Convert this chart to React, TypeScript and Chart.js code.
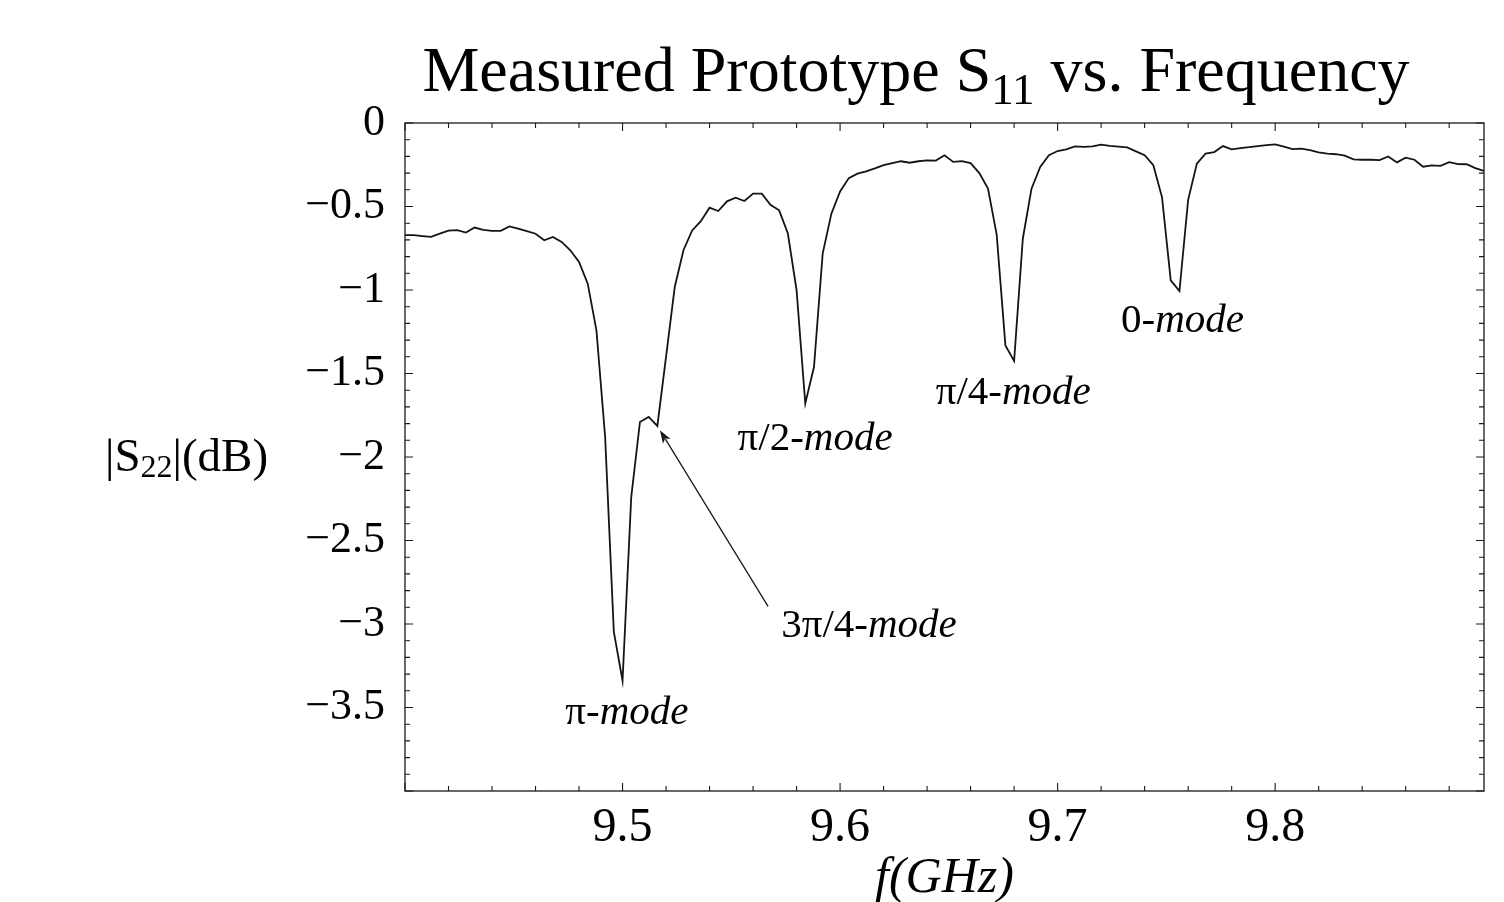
import React, { useEffect, useRef } from 'react';
import { Chart, registerables } from 'chart.js';

Chart.register(...registerables);

// Frequency grid (GHz) of the measured sweep
const FREQ_GHZ = [
  9.400, 9.404, 9.408, 9.412, 9.416, 9.420, 9.424, 9.428, 9.432, 9.436,
  9.440, 9.444, 9.448, 9.452, 9.456, 9.460, 9.464, 9.468, 9.472, 9.476,
  9.480, 9.484, 9.488, 9.492, 9.496, 9.500, 9.504, 9.508, 9.512, 9.516,
  9.520, 9.524, 9.528, 9.532, 9.536, 9.540, 9.544, 9.548, 9.552, 9.556,
  9.560, 9.564, 9.568, 9.572, 9.576, 9.580, 9.584, 9.588, 9.592, 9.596,
  9.600, 9.604, 9.608, 9.612, 9.616, 9.620, 9.624, 9.628, 9.632, 9.636,
  9.640, 9.644, 9.648, 9.652, 9.656, 9.660, 9.664, 9.668, 9.672, 9.676,
  9.680, 9.684, 9.688, 9.692, 9.696, 9.700, 9.704, 9.708, 9.712, 9.716,
  9.720, 9.724, 9.728, 9.732, 9.736, 9.740, 9.744, 9.748, 9.752, 9.756,
  9.760, 9.764, 9.768, 9.772, 9.776, 9.780, 9.784, 9.788, 9.792, 9.796,
  9.800, 9.804, 9.808, 9.812, 9.816, 9.820, 9.824, 9.828, 9.832, 9.836,
  9.840, 9.844, 9.848, 9.852, 9.856, 9.860, 9.864, 9.868, 9.872, 9.876,
  9.880, 9.884, 9.888, 9.892, 9.896,
];

// Measured |S22| (dB)
const S_DB = [
  -0.672, -0.672, -0.677, -0.682, -0.662, -0.645, -0.642, -0.656, -0.626, -0.640,
  -0.646, -0.646, -0.619, -0.633, -0.648, -0.663, -0.702, -0.682, -0.712, -0.762,
  -0.832, -0.962, -1.241, -1.880, -3.048, -3.340, -2.240, -1.790, -1.760, -1.814,
  -1.400, -0.982, -0.762, -0.643, -0.588, -0.507, -0.527, -0.469, -0.447, -0.467,
  -0.423, -0.423, -0.490, -0.523, -0.662, -1.000, -1.680, -1.461, -0.782, -0.543,
  -0.410, -0.330, -0.303, -0.290, -0.272, -0.252, -0.240, -0.229, -0.238, -0.229,
  -0.224, -0.225, -0.193, -0.233, -0.228, -0.240, -0.300, -0.393, -0.670, -1.332,
  -1.425, -0.693, -0.393, -0.263, -0.193, -0.168, -0.158, -0.140, -0.143, -0.140,
  -0.130, -0.137, -0.142, -0.146, -0.170, -0.193, -0.253, -0.445, -0.942, -1.006,
  -0.460, -0.243, -0.183, -0.174, -0.138, -0.158, -0.150, -0.145, -0.138, -0.132,
  -0.128, -0.142, -0.156, -0.154, -0.163, -0.176, -0.184, -0.187, -0.195, -0.218,
  -0.220, -0.220, -0.222, -0.200, -0.236, -0.208, -0.220, -0.262, -0.254, -0.257,
  -0.234, -0.246, -0.247, -0.270, -0.287,
];

const X_TICKS = [9.5, 9.6, 9.7, 9.8];
const Y_TICKS = [0, -0.5, -1, -1.5, -2, -2.5, -3, -3.5];
const X_RANGE = [9.4, 9.896];
const Y_RANGE = [-4, 0];

// Mode annotations (data coordinates of label centre / baseline)
const MODE_PREFIX = ['π-', 'π/2-', 'π/4-', '0-', '3π/4-'];
const MODE_X = [9.502, 9.5885, 9.6796, 9.7574, 9.6133];
const MODE_Y = [-3.6, -1.96, -1.68, -1.25, -3.08];
const ARROW_FROM = [9.5669, -2.894];
const ARROW_TO = [9.5172, -1.84];

const SERIF = "'Liberation Serif', 'Times New Roman', Times, serif";

type Run = { text: string; size: number; italic?: boolean; dy?: number };

function fontOf(r: Run) {
  return `${r.italic ? 'italic ' : ''}${r.size}px ${SERIF}`;
}

function drawRuns(ctx: CanvasRenderingContext2D, runs: Run[], x: number, y: number, align: 'left' | 'center') {
  const widths = runs.map((r) => {
    ctx.font = fontOf(r);
    return ctx.measureText(r.text).width;
  });
  const total = widths.reduce((a, b) => a + b, 0);
  let cx = align === 'center' ? x - total / 2 : x;
  ctx.textAlign = 'left';
  ctx.textBaseline = 'alphabetic';
  runs.forEach((r, i) => {
    ctx.font = fontOf(r);
    ctx.fillText(r.text, cx, y + (r.dy || 0));
    cx += widths[i];
  });
}

const decorPlugin = {
  id: 'decor',
  afterDraw(chart: any) {
    const { ctx, chartArea: a, scales } = chart;
    const x = scales.x;
    const y = scales.y;
    ctx.save();

    // frame
    ctx.strokeStyle = '#1a1a1a';
    ctx.lineWidth = 1.3;
    ctx.strokeRect(a.left, a.top, a.right - a.left, a.bottom - a.top);

    // inward tick marks on all four sides
    ctx.lineWidth = 1.1;
    ctx.beginPath();
    for (let k = 0; ; k++) {
      const v = X_RANGE[0] + k * 0.02;
      if (v > X_RANGE[1] + 1e-9) break;
      const len = k % 5 === 0 ? 8 : 5;
      const px = x.getPixelForValue(v);
      ctx.moveTo(px, a.bottom);
      ctx.lineTo(px, a.bottom - len);
      ctx.moveTo(px, a.top);
      ctx.lineTo(px, a.top + len);
    }
    for (let k = 0; ; k++) {
      const v = Y_RANGE[0] + k * 0.1;
      if (v > Y_RANGE[1] + 1e-9) break;
      const len = k % 5 === 0 ? 8 : 5;
      const py = y.getPixelForValue(v);
      ctx.moveTo(a.left, py);
      ctx.lineTo(a.left + len, py);
      ctx.moveTo(a.right, py);
      ctx.lineTo(a.right - len, py);
    }
    ctx.stroke();

    ctx.fillStyle = '#000';
    // title
    drawRuns(
      ctx,
      [
        { text: 'Measured Prototype S', size: 64 },
        { text: '11', size: 45, dy: 13 },
        { text: ' vs. Frequency', size: 64 },
      ],
      916,
      91,
      'center'
    );

    // y-axis label
    drawRuns(
      ctx,
      [
        { text: '|S', size: 47 },
        { text: '22', size: 32, dy: 6 },
        { text: '|(dB)', size: 47 },
      ],
      105,
      471,
      'left'
    );

    // mode labels
    MODE_PREFIX.forEach((p, i) => {
      drawRuns(
        ctx,
        [
          { text: p, size: 41 },
          { text: 'mode', size: 41, italic: true },
        ],
        x.getPixelForValue(MODE_X[i]),
        y.getPixelForValue(MODE_Y[i]),
        'center'
      );
    });

    // arrow
    const x0 = x.getPixelForValue(ARROW_FROM[0]);
    const y0 = y.getPixelForValue(ARROW_FROM[1]);
    const x1 = x.getPixelForValue(ARROW_TO[0]);
    const y1 = y.getPixelForValue(ARROW_TO[1]);
    const ang = Math.atan2(y1 - y0, x1 - x0);
    const hl = 13;
    const hw = 4.5;
    ctx.strokeStyle = '#1a1a1a';
    ctx.lineWidth = 1.3;
    ctx.beginPath();
    ctx.moveTo(x0, y0);
    ctx.lineTo(x1 - Math.cos(ang) * hl * 0.8, y1 - Math.sin(ang) * hl * 0.8);
    ctx.stroke();
    ctx.beginPath();
    ctx.moveTo(x1, y1);
    ctx.lineTo(x1 - Math.cos(ang) * hl - Math.sin(ang) * hw, y1 - Math.sin(ang) * hl + Math.cos(ang) * hw);
    ctx.lineTo(x1 - Math.cos(ang) * hl * 0.75, y1 - Math.sin(ang) * hl * 0.75);
    ctx.lineTo(x1 - Math.cos(ang) * hl + Math.sin(ang) * hw, y1 - Math.sin(ang) * hl - Math.cos(ang) * hw);
    ctx.closePath();
    ctx.fillStyle = '#1a1a1a';
    ctx.fill();

    ctx.restore();
  },
};

export default function App() {
  const ref = useRef<HTMLCanvasElement>(null);

  useEffect(() => {
    document.body.style.margin = '0';
    document.body.style.overflow = 'hidden';
    const canvas = ref.current;
    if (!canvas) return;

    const points = FREQ_GHZ.map((f, i) => ({ x: f, y: S_DB[i] }));

    const chart = new Chart(canvas, {
      type: 'line',
      data: {
        datasets: [
          {
            label: '|S22| (dB)',
            data: points,
            borderColor: '#141414',
            borderWidth: 1.8,
            pointRadius: 0,
            tension: 0,
            fill: false,
          },
        ],
      },
      options: {
        animation: false,
        responsive: false,
        devicePixelRatio: 1,
        layout: { padding: { top: 123, right: 20, left: 0, bottom: 0 } },
        plugins: {
          legend: { display: false },
          tooltip: { enabled: false },
          title: { display: false },
        },
        scales: {
          x: {
            type: 'linear',
            min: X_RANGE[0],
            max: X_RANGE[1],
            afterBuildTicks: (s: any) => {
              s.ticks = X_TICKS.map((v) => ({ value: v }));
            },
            afterFit: (s: any) => {
              s.height = 111;
            },
            grid: { display: false, drawTicks: false },
            border: { display: false },
            ticks: {
              padding: 9,
              color: '#000',
              font: { family: SERIF, size: 48, lineHeight: 1.2 },
              maxRotation: 0,
              autoSkip: false,
              callback: (v: any) => Number(v).toFixed(1),
            },
            title: {
              display: true,
              text: 'f(GHz)',
              color: '#000',
              font: { family: SERIF, size: 50, style: 'italic', lineHeight: 1 },
              padding: { top: 0, bottom: -2 },
            },
          },
          y: {
            type: 'linear',
            min: Y_RANGE[0],
            max: Y_RANGE[1],
            afterBuildTicks: (s: any) => {
              s.ticks = Y_TICKS.map((v) => ({ value: v }));
            },
            afterFit: (s: any) => {
              s.width = 405;
            },
            grid: { display: false, drawTicks: false },
            border: { display: false },
            ticks: {
              padding: 20,
              color: '#000',
              font: { family: SERIF, size: 44, lineHeight: 1.2 },
              autoSkip: false,
              callback: (v: any) => {
                const n = Number(v);
                if (n === 0) return '0';
                return '\u2212' + String(Math.abs(n));
              },
            },
          },
        },
      },
      plugins: [decorPlugin],
    });

    return () => chart.destroy();
  }, []);

  return (
    <div style={{ width: 1504, height: 902, background: '#fff' }}>
      <canvas ref={ref} width={1504} height={902} style={{ display: 'block' }} />
    </div>
  );
}
